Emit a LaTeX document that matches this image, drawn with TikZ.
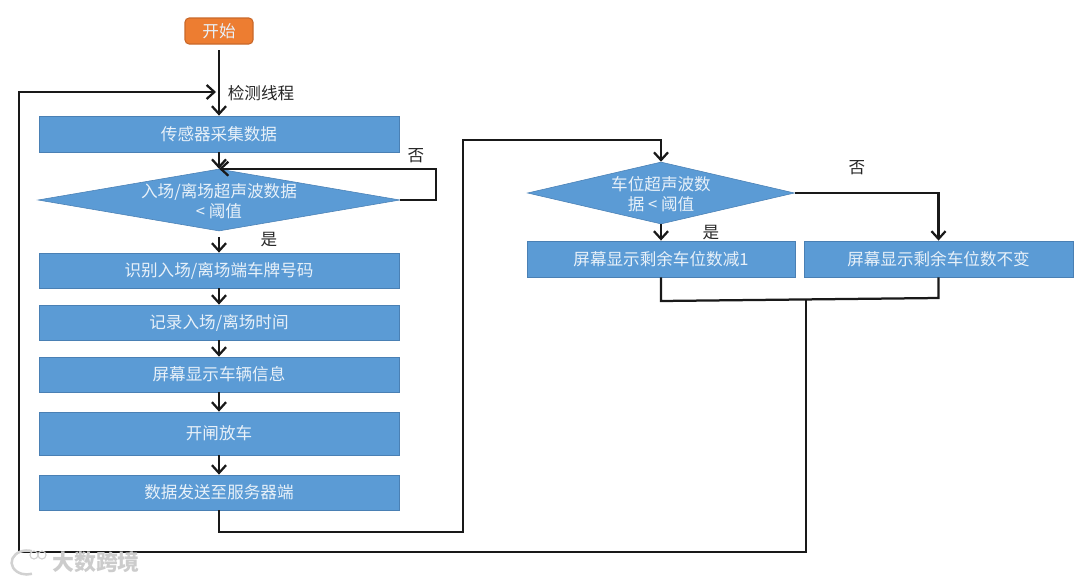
\documentclass[tikz,border=0pt]{standalone}
\usepackage{fontspec}
\setmainfont{Noto Sans CJK SC}
\usetikzlibrary{arrows.meta,positioning,calc,shapes.geometric}
\definecolor{boxblue}{HTML}{5B9BD5}
\definecolor{boxedge}{HTML}{4A80B4}
\definecolor{startorange}{HTML}{ED7D31}
\definecolor{startedge}{HTML}{C9682A}
\definecolor{boxtext}{HTML}{E8F1F9}
\begin{document}
\begin{tikzpicture}[>={Straight Barb[length=5.5pt,width=10pt]},font=\fontsize{11.8}{14.4}\selectfont,x=1.000cm,y=1.000cm,line width=1.6pt,
 box/.style={draw=boxedge,line width=0.6pt,fill=boxblue,text=boxtext,inner sep=0pt,text height=11pt,text depth=2.2pt,minimum width=9.000cm,minimum height=0.875cm},
 dia/.style={draw=boxedge,line width=0.4pt,fill=boxblue,diamond,inner sep=0pt,minimum height=1.550cm},
 startbox/.style={draw=startedge,line width=0.8pt,fill=startorange,text=boxtext,rounded corners=3pt,inner sep=0pt,minimum width=1.700cm,minimum height=0.650cm},
 diatext/.style={text=boxtext,align=center,inner sep=0pt,yshift=-0.7pt},
 lab/.style={inner sep=0pt,text=black!85},
 flow/.style={draw=black!90}]
\useasboundingbox (0,0) rectangle (27.000,-14.575);
\node[startbox] (start) at (5.475,-0.775) {开始};
\node[box,minimum height=0.900cm] (sense) at (5.475,-3.350) {传感器采集数据};
\node[dia,minimum width=9.050cm,label={[diatext]center:入场/离场超声波数据\\< 阈值}] (gate) at (5.475,-5.000) {};
\node[box] (plate) at (5.475,-6.763) {识别入场/离场端车牌号码};
\node[box] (time) at (5.475,-8.063) {记录入场/离场时间};
\node[box] (info) at (5.475,-9.363) {屏幕显示车辆信息};
\node[box,minimum height=1.075cm] (open) at (5.475,-10.838) {开闸放车};
\node[box] (send) at (5.475,-12.313) {数据发送至服务器端};
\node[dia,minimum width=6.675cm,label={[diatext]center:车位超声波数\\据 < 阈值}] (space) at (16.525,-4.825) {};
\node[box,minimum width=6.700cm,minimum height=0.900cm] (minus) at (16.525,-6.475) {屏幕显示剩余车位数减1};
\node[box,minimum width=6.725cm,minimum height=0.900cm] (same) at (23.463,-6.475) {屏幕显示剩余车位数不变};
\node[lab] (thread) at (6.525,-2.325) {检测线程};
\node[lab] (no1) at (10.400,-3.900) {否};
\node[lab] (yes1) at (6.725,-6.000) {是};
\node[lab] (no2) at (21.425,-4.200) {否};
\node[lab] (yes2) at (17.775,-5.825) {是};
\coordinate (entry) at (5.400,-2.300);
\coordinate (joinl) at (16.525,-7.525);
\coordinate (joinr) at (23.463,-7.450);
\coordinate (joinm) at (20.150,-7.490);
\draw[flow,->,shorten <=4pt] (start.south) -- (sense.north);
\draw[flow,->] (sense.south) -- (gate.north);
\draw[flow,->] (gate.east) -- (10.900,-5.000) |- (gate.north);
\draw[flow,->,shorten <=4pt] (gate.south) -- (plate.north);
\draw[flow,->] (plate.south) -- (time.north);
\draw[flow,->] (time.south) -- (info.north);
\draw[flow,->] (info.south) -- (open.north);
\draw[flow,->] (open.south) -- (send.north);
\draw[flow,->] (send.south) |- (11.575,-13.300) -- (11.575,-3.500) -| (space.north);
\draw[flow,->] (space.south) -- (minus.north);
\draw[flow,->] (space.east) -| (same.north);
\draw[flow] (minus.south) -- (joinl) -- (joinr) -- (same.south);
\draw[flow,->] (joinm) |- (0.475,-13.800) |- (entry);
% watermark
\node[inner sep=0pt,text=black!20,font=\fontsize{15.6}{18}\selectfont\bfseries] (mark) at (2.400,-14.050) {大数跨境};
\draw[black!18,line width=1.8pt] (0.800,-13.780) arc[start angle=70,end angle=290,x radius=0.380,y radius=0.300];
\draw[black!18,line width=0.8pt] (0.850,-13.875) circle[radius=0.100] (1.050,-13.875) circle[radius=0.100];
\end{tikzpicture}
\end{document}
